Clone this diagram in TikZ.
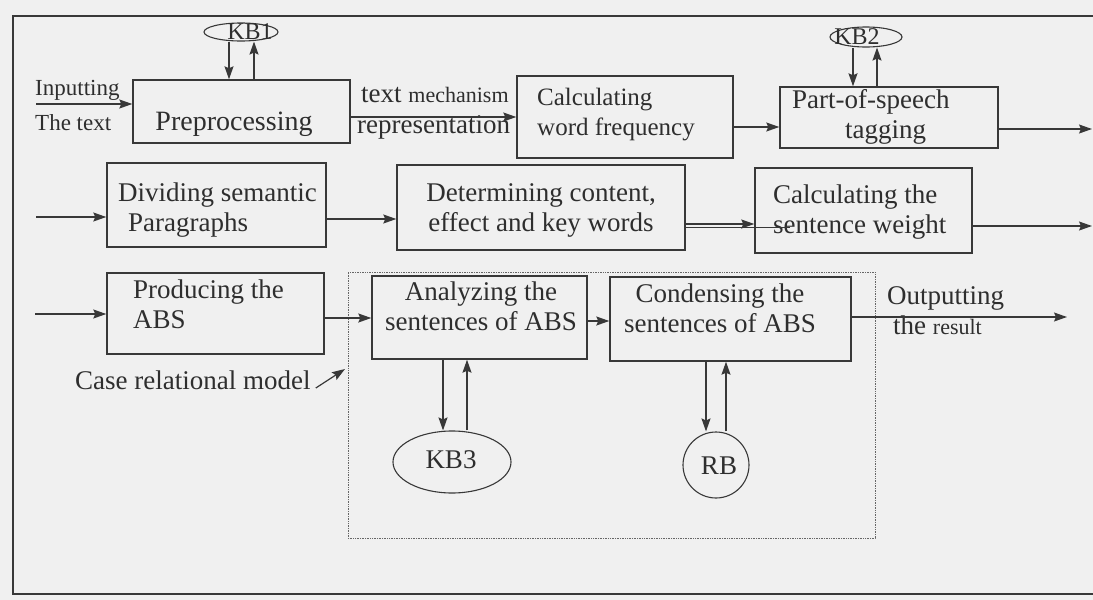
\documentclass[tikz,border=0pt]{standalone}
\usepackage{fontspec}
\setmainfont{Liberation Serif}
\usetikzlibrary{arrows.meta,shapes.geometric,fit,calc}
\begin{document}
\begin{tikzpicture}[x=1pt,y=-1pt,
  ink/.style={draw=black!78},
  box/.style={ink, line width=1.4pt, rectangle, inner sep=0pt},
  kbshape/.style={ink, line width=1.1pt, ellipse, inner sep=0pt},
  arr/.style={draw=black!78, line width=1.3pt, -{Stealth[length=13pt,width=9pt,inset=2pt]}},
  txt/.style={inner sep=0pt, text=black!82, font=\fontsize{27}{30}\selectfont},
  small/.style={font=\fontsize{23}{26}\selectfont},
  kbtxt/.style={inner sep=0pt, text=black!82, font=\fontsize{24}{24}\selectfont}]
\useasboundingbox (0,0) rectangle (1093,600);
\fill[black!6] (0,0) rectangle (1093,600);
% outer frame
\draw[ink, line width=1.1pt] (1093,16) -- (13,16) -- (13,594) -- (1093,594);
% group (dotted)
\node[draw=black!60, densely dotted, line width=0.7pt, inner sep=0pt, fit={(348,272) (875,538)}] (grp) {};
% boxes
\node[box, fit={(133,80) (350,143)}] (pre) {};
\node[box, fit={(517,76) (733,158)}] (cwf) {};
\node[box, fit={(780,87) (998,148)}] (pos) {};
\node[box, fit={(107,163) (326,247)}] (div) {};
\node[box, fit={(397,165) (685,250)}] (det) {};
\node[box, fit={(755,168) (972,253)}] (csw) {};
\node[box, fit={(107,273) (324,354)}] (pro) {};
\node[box, fit={(372,276) (587,359)}] (ana) {};
\node[box, fit={(610,277) (851,361)}] (con) {};
% knowledge bases
\node[kbshape, minimum width=74pt, minimum height=18pt] (kb1) at (241,32) {};
\node[kbshape, minimum width=72pt, minimum height=20pt] (kb2) at (866,37) {};
\node[kbshape, minimum width=118pt, minimum height=62pt] (kb3) at (452,462) {};
\node[ink, line width=1.1pt, circle, inner sep=0pt, minimum size=66pt] (rb) at (716,465) {};
\node[kbtxt] (t-kb1) at (250,32) {KB1};
\node[kbtxt] (t-kb2) at (857,37) {KB2};
\node[kbtxt, font=\fontsize{27}{27}\selectfont] (t-kb3) at (451,460) {KB3};
\node[kbtxt, font=\fontsize{27}{27}\selectfont] (t-rb) at (719,466) {RB};
% texts
\node[txt, small, anchor=west] (t-in) at (35,90) {Inputting};
\node[txt, small, anchor=west] (t-tt) at (35,123) {The text};
\node[txt, font=\fontsize{28}{30}\selectfont] (t-pre) at (234,124) {Preprocessing};
\node[txt, anchor=west] (t-tm) at (361,95) {text {\fontsize{22}{26}\selectfont mechanism}};
\node[txt, anchor=west] (t-rep) at (357,127) {representation};
\node[txt, font=\fontsize{25}{30}\selectfont, align=left, anchor=west] (t-cwf) at (537,115) {Calculating\\word frequency};
\node[txt, align=left, anchor=west] (t-pos) at (792,117) {Part-of-speech\\\hspace*{53pt}tagging};
\node[txt, align=left, anchor=west] (t-div) at (118,210) {Dividing semantic\\\hspace*{10pt}Paragraphs};
\node[txt, align=center] (t-det) at (541,210) {Determining content,\\effect and key words};
\node[txt, align=left, anchor=west] (t-csw) at (773,212) {Calculating the\\sentence weight};
\node[txt, align=left, anchor=west] (t-pro) at (133,304) {Producing the\\ABS};
\node[txt, align=center] (t-ana) at (481,306) {Analyzing the\\sentences of ABS};
\node[txt, align=center] (t-con) at (720,308) {Condensing the\\sentences of ABS};
\node[txt, align=left, anchor=west] (t-out) at (887,311) {Outputting\\\hspace*{6pt}the {\fontsize{22}{30}\selectfont result}};
\node[txt, anchor=west] (t-crm) at (75,380) {Case relational model};
% level / end coordinates
\coordinate (iA) at (36,104);
\coordinate (yF) at (0,117);
\coordinate (yA) at (0,127);
\coordinate (oA) at (1092,129);
\coordinate (iB) at (36,217);
\coordinate (yB) at (0,219);
\coordinate (yC) at (0,224);
\coordinate (sk) at (790,227);
\coordinate (oB) at (1092,226);
\coordinate (iC) at (35,314);
\coordinate (yD) at (0,318);
\coordinate (yE) at (0,321);
\coordinate (oC) at (1067,317);
\coordinate (crmtip) at (345,369);
\coordinate (k1a) at (229,0);
\coordinate (k1b) at (254,0);
\coordinate (k2a) at (853,0);
\coordinate (k2b) at (877,0);
\coordinate (k3a) at (443,0);
\coordinate (k3b) at (467,0);
\coordinate (rba) at (706,0);
\coordinate (rbb) at (726,0);
% row 1
\draw[arr] (iA) -- (iA -| pre.west);
\draw[arr] (k1a |- kb1.south) -- (k1a |- pre.north);
\draw[arr] (k1b |- pre.north) -- (k1b |- kb1.south);
\draw[arr] (pre.east |- yF) -- (cwf.west |- yF);
\draw[arr] (cwf.east |- yA) -- (pos.west |- yA);
\draw[arr] (k2a |- kb2.south) -- (k2a |- pos.north);
\draw[arr] (k2b |- pos.north) -- (k2b |- kb2.south);
\draw[arr] (pos.east |- oA) -- (oA);
% row 2
\draw[arr] (iB) -- (iB -| div.west);
\draw[arr] (div.east |- yB) -- (det.west |- yB);
\draw[arr] (det.east |- yC) -- (csw.west |- yC);
\draw[ink, line width=1pt] (det.east |- sk) -- (sk);
\draw[arr] (csw.east |- oB) -- (oB);
% row 3
\draw[arr] (iC) -- (iC -| pro.west);
\draw[arr] (pro.east |- yD) -- (ana.west |- yD);
\draw[arr] (ana.east |- yE) -- (con.west |- yE);
\draw[arr] (con.east |- oC) -- (oC);
\draw[arr] (k3a |- ana.south) -- (k3a |- kb3.north);
\draw[arr] (k3b |- kb3.north) -- (k3b |- ana.south);
\draw[arr] (rba |- con.south) -- (rba |- rb.north);
\draw[arr] (rbb |- rb.north) -- (rbb |- con.south);
\draw[arr, line width=1.2pt] ($(t-crm.east)+(5,8)$) -- (crmtip);
\end{tikzpicture}
\end{document}
